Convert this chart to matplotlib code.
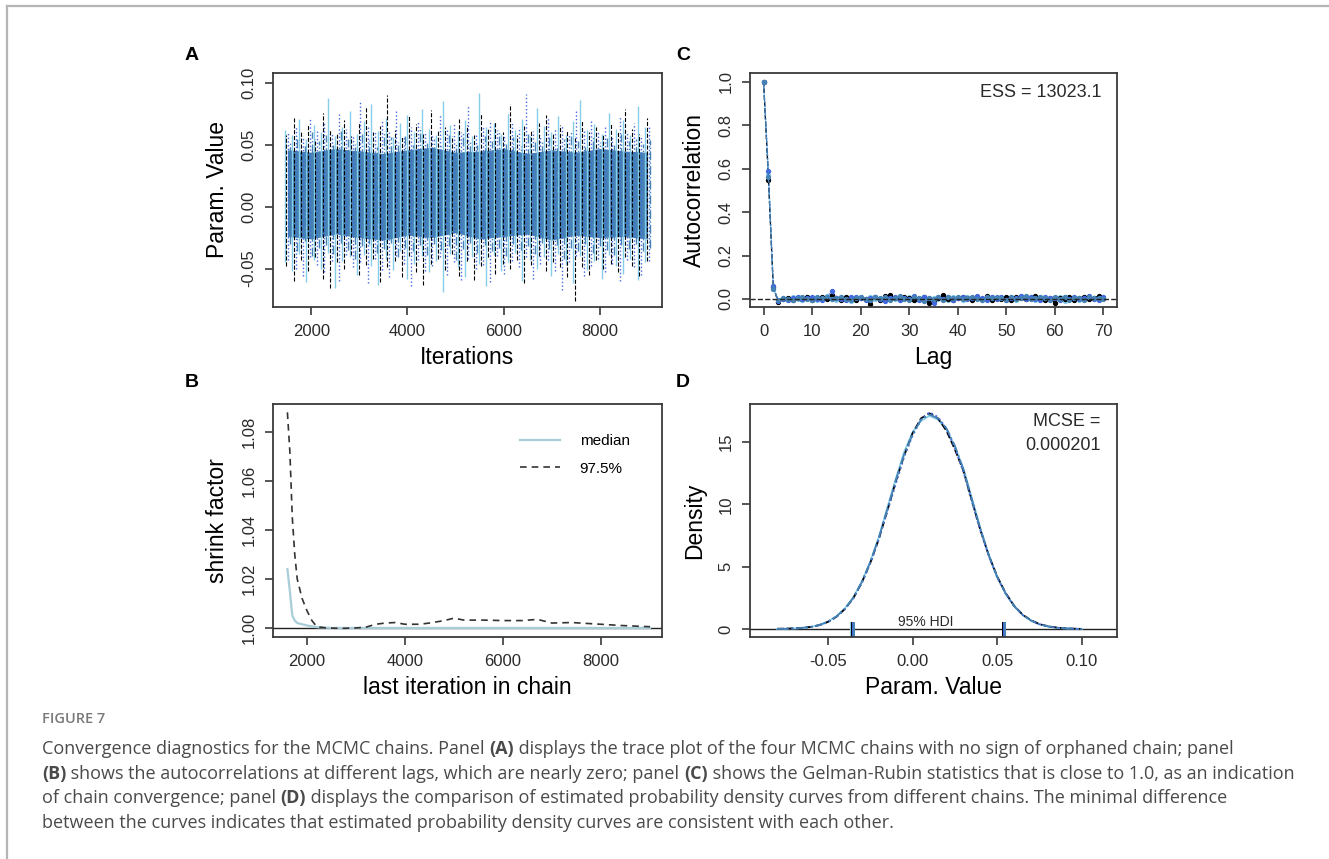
import numpy as np
import matplotlib
matplotlib.use("Agg")
import matplotlib.pyplot as plt
from matplotlib.lines import Line2D

plt.rcParams['font.family'] = ['Liberation Sans', 'DejaVu Sans']

W, H = 1329, 859

# ---------------------------------------------------------------- data ----
CHAIN_COLORS = ['#87CEEB', '#000000', '#4169E1', '#4682B4']
CHAIN_STYLES = ['-', '--', ':', '-.']

# A: trace plot, spike extremes per chain at iteration grid
TRACE_ITER = np.arange(1500, 9001, 150)
TRACE_SHIFT = [-56, -19, 19, 56]
TRACE_HI = [
    [0.062, 0.058, 0.071, 0.055, 0.066, 0.060, 0.088, 0.057, 0.064, 0.077,
     0.059, 0.069, 0.083, 0.061, 0.072, 0.056, 0.068, 0.074, 0.060, 0.079,
     0.063, 0.058, 0.085, 0.066, 0.061, 0.070, 0.057, 0.092, 0.064, 0.068,
     0.059, 0.075, 0.062, 0.071, 0.057, 0.080, 0.065, 0.060, 0.073, 0.058,
     0.069, 0.086, 0.062, 0.067, 0.059, 0.076, 0.063, 0.070, 0.058, 0.081,
     0.064],
    [0.058, 0.072, 0.061, 0.066, 0.055, 0.076, 0.063, 0.059, 0.070, 0.057,
     0.068, 0.081, 0.060, 0.065, 0.090, 0.062, 0.056, 0.073, 0.067, 0.059,
     0.078, 0.061, 0.064, 0.057, 0.071, 0.066, 0.058, 0.075, 0.063, 0.069,
     0.060, 0.083, 0.058, 0.065, 0.061, 0.068, 0.074, 0.059, 0.066, 0.062,
     0.057, 0.070, 0.060, 0.064, 0.058, 0.067, 0.061, 0.079, 0.063, 0.059,
     0.072],
    [0.060, 0.065, 0.057, 0.072, 0.061, 0.068, 0.059, 0.075, 0.063, 0.058,
     0.086, 0.066, 0.060, 0.071, 0.062, 0.079, 0.057, 0.064, 0.069, 0.061,
     0.058, 0.074, 0.063, 0.067, 0.060, 0.082, 0.059, 0.065, 0.070, 0.062,
     0.057, 0.068, 0.064, 0.091, 0.061, 0.058, 0.072, 0.063, 0.066, 0.059,
     0.077, 0.062, 0.069, 0.060, 0.065, 0.057, 0.073, 0.061, 0.068, 0.058,
     0.066],
    [0.052, 0.056, 0.049, 0.060, 0.053, 0.058, 0.050, 0.063, 0.055, 0.051,
     0.059, 0.054, 0.048, 0.061, 0.056, 0.052, 0.057, 0.050, 0.064, 0.053,
     0.055, 0.049, 0.058, 0.052, 0.060, 0.054, 0.050, 0.057, 0.053, 0.062,
     0.051, 0.056, 0.049, 0.059, 0.054, 0.052, 0.058, 0.050, 0.055, 0.061,
     0.053, 0.048, 0.057, 0.052, 0.056, 0.050, 0.059, 0.053, 0.055, 0.051,
     0.054],
]
TRACE_LO = [
    [-0.045, -0.052, -0.038, -0.061, -0.043, -0.050, -0.037, -0.066, -0.044, -0.041,
     -0.055, -0.039, -0.048, -0.063, -0.042, -0.051, -0.036, -0.058, -0.046, -0.040,
     -0.053, -0.044, -0.069, -0.038, -0.049, -0.057, -0.041, -0.046, -0.064, -0.039,
     -0.052, -0.045, -0.037, -0.060, -0.043, -0.050, -0.041, -0.056, -0.038, -0.047,
     -0.062, -0.040, -0.051, -0.044, -0.058, -0.039, -0.048, -0.054, -0.042, -0.059,
     -0.045],
    [-0.048, -0.060, -0.043, -0.052, -0.041, -0.058, -0.066, -0.045, -0.050, -0.039,
     -0.055, -0.047, -0.042, -0.061, -0.049, -0.044, -0.057, -0.040, -0.053, -0.063,
     -0.046, -0.042, -0.051, -0.038, -0.056, -0.044, -0.059, -0.048, -0.041, -0.054,
     -0.046, -0.050, -0.043, -0.062, -0.047, -0.040, -0.052, -0.045, -0.049, -0.057,
     -0.076, -0.049, -0.055, -0.043, -0.050, -0.046, -0.053, -0.041, -0.048, -0.056,
     -0.044],
    [-0.043, -0.050, -0.056, -0.041, -0.047, -0.053, -0.044, -0.060, -0.039, -0.049,
     -0.045, -0.062, -0.042, -0.051, -0.057, -0.040, -0.046, -0.064, -0.043, -0.052,
     -0.048, -0.041, -0.055, -0.045, -0.059, -0.042, -0.050, -0.047, -0.061, -0.040,
     -0.054, -0.044, -0.049, -0.041, -0.058, -0.046, -0.043, -0.052, -0.067, -0.045,
     -0.040, -0.056, -0.048, -0.042, -0.053, -0.046, -0.060, -0.043, -0.049, -0.055,
     -0.044],
    [-0.030, -0.036, -0.028, -0.040, -0.033, -0.031, -0.038, -0.029, -0.035, -0.042,
     -0.032, -0.030, -0.037, -0.034, -0.029, -0.041, -0.033, -0.036, -0.031, -0.039,
     -0.030, -0.035, -0.032, -0.043, -0.034, -0.029, -0.037, -0.031, -0.036, -0.033,
     -0.040, -0.030, -0.035, -0.032, -0.038, -0.029, -0.034, -0.031, -0.042, -0.033,
     -0.036, -0.030, -0.037, -0.032, -0.035, -0.039, -0.031, -0.034, -0.030, -0.036,
     -0.033],
]
BAND_ITER = np.arange(1500, 9001, 500)
BAND_HI = [0.046, 0.044, 0.047, 0.045, 0.043, 0.046, 0.048, 0.044,
           0.045, 0.047, 0.043, 0.046, 0.044, 0.047, 0.045, 0.044]
BAND_LO = [-0.024, -0.026, -0.022, -0.025, -0.027, -0.023, -0.025, -0.021,
           -0.026, -0.024, -0.022, -0.027, -0.023, -0.025, -0.024, -0.026]

# C: autocorrelation per chain, lags 0..70
LAGS = np.arange(0, 71)
ACF = [
    [1.0, 0.57, 0.05, -0.005, 0.004, -0.006, 0.008, 0.002, -0.004, 0.010,
     0.003, -0.007, 0.006, 0.012, 0.001, -0.005, 0.009, 0.004, -0.008, 0.003,
     0.007, -0.002, 0.011, 0.000, -0.006, 0.008, 0.015, 0.002, -0.004, 0.006,
     0.010, -0.007, 0.003, 0.009, -0.012, 0.005, 0.001, 0.013, -0.003, 0.007,
     0.004, -0.006, 0.010, 0.002, 0.008, -0.004, 0.005, 0.011, -0.002, 0.006,
     0.003, 0.009, -0.005, 0.012, 0.001, 0.007, -0.003, 0.010, 0.004, -0.006,
     0.002, 0.008, -0.010, 0.005, 0.003, -0.004, 0.009, 0.001, -0.002, 0.006,
     0.004],
    [1.0, 0.55, 0.055, -0.015, 0.000, 0.003, -0.004, 0.006, 0.002, 0.009,
     -0.003, 0.005, 0.010, -0.002, 0.018, 0.004, -0.006, 0.007, 0.001, -0.004,
     0.006, 0.002, -0.025, 0.008, -0.003, 0.012, 0.020, 0.005, -0.002, 0.009,
     0.003, -0.006, 0.001, 0.007, -0.018, -0.010, 0.004, 0.016, 0.002, -0.004,
     0.006, 0.011, 0.003, -0.005, 0.008, 0.001, 0.014, -0.003, 0.005, 0.002,
     0.007, -0.004, 0.010, 0.003, -0.002, 0.006, 0.012, 0.001, -0.006, 0.004,
     -0.018, 0.006, 0.002, 0.008, -0.003, 0.005, 0.010, -0.002, 0.004, 0.014,
     0.006],
    [1.0, 0.59, 0.06, -0.008, 0.002, -0.003, 0.006, 0.010, -0.002, 0.004,
     0.008, 0.001, -0.005, 0.009, 0.035, 0.006, 0.002, -0.004, 0.007, 0.011,
     0.003, -0.006, 0.005, 0.009, 0.001, -0.008, 0.004, 0.010, -0.003, 0.006,
     0.002, 0.012, -0.005, 0.007, 0.003, -0.020, 0.008, 0.001, 0.011, -0.004,
     0.005, 0.009, -0.002, 0.006, 0.013, 0.003, -0.006, 0.008, 0.002, 0.010,
     -0.003, 0.006, 0.004, 0.015, -0.001, 0.007, 0.002, -0.005, 0.009, 0.003,
     0.006, -0.004, 0.011, 0.001, 0.007, -0.002, 0.005, 0.013, 0.002, -0.003,
     0.008],
    [1.0, 0.56, 0.045, -0.003, 0.006, 0.001, -0.005, 0.004, 0.009, 0.002,
     -0.004, 0.007, 0.003, 0.010, -0.002, 0.005, 0.008, 0.000, -0.006, 0.006,
     0.011, 0.002, -0.004, 0.007, 0.003, 0.009, -0.003, 0.005, 0.012, 0.001,
     -0.005, 0.008, 0.004, -0.009, 0.006, 0.002, 0.010, -0.003, 0.007, 0.003,
     0.009, -0.002, 0.005, 0.011, 0.001, -0.004, 0.007, 0.003, 0.010, 0.004,
     -0.003, 0.008, 0.002, 0.006, 0.012, -0.001, 0.005, 0.009, 0.003, -0.005,
     0.007, 0.002, 0.010, -0.003, 0.006, 0.004, -0.006, 0.008, 0.003, 0.005,
     0.002],
]
ESS_LABEL = 'ESS = 13023.1'

# B: Gelman-Rubin shrink factor
GR_MED_X = [1600, 1650, 1700, 1750, 1800, 2000, 2200, 2500, 3000, 4000,
            5000, 6000, 7000, 8000, 9000]
GR_MED = [1.024, 1.015, 1.005, 1.003, 1.002, 1.001, 1.0003, 1.0, 1.0, 1.0,
          1.0, 1.0, 1.0, 1.0, 1.0]
GR_97_X = [1600, 1650, 1700, 1750, 1800, 1900, 2000, 2100, 2200, 2400,
           2700, 3000, 3200, 3400, 3600, 3800, 4000, 4300, 4500, 4800,
           5000, 5200, 5600, 6000, 6400, 6700, 7000, 7400, 8000, 8400, 9000]
GR_97 = [1.088, 1.072, 1.045, 1.030, 1.020, 1.012, 1.007, 1.003, 1.0005, 1.0,
         0.9998, 1.0, 1.0003, 1.0015, 1.002, 1.0022, 1.0015, 1.0015, 1.002, 1.003,
         1.004, 1.0032, 1.0032, 1.003, 1.003, 1.0035, 1.002, 1.0022, 1.0015, 1.001,
         1.0005]

# D: density per chain
DENS_X = np.round(np.arange(-0.08, 0.1001, 0.005), 3)
DENS = [
    [0.01, 0.02, 0.04, 0.09, 0.18, 0.33, 0.60, 1.02, 1.65, 2.55, 3.80, 5.40, 7.35,
     9.70, 12.0, 14.2, 15.8, 16.7, 17.1, 16.8, 16.0, 14.6, 12.9, 10.5, 8.10, 5.95,
     4.15, 2.80, 1.82, 1.12, 0.66, 0.37, 0.20, 0.10, 0.05, 0.02, 0.01],
    [0.02, 0.03, 0.05, 0.10, 0.17, 0.31, 0.57, 0.98, 1.60, 2.48, 3.72, 5.30, 7.20,
     9.45, 11.8, 13.9, 15.7, 16.9, 17.3, 16.9, 15.9, 14.4, 12.7, 10.3, 7.95, 5.90,
     4.20, 2.88, 1.86, 1.15, 0.70, 0.39, 0.22, 0.12, 0.06, 0.03, 0.01],
    [0.01, 0.02, 0.04, 0.08, 0.16, 0.30, 0.55, 0.96, 1.58, 2.45, 3.68, 5.25, 7.15,
     9.40, 11.6, 13.8, 15.5, 16.8, 17.4, 17.0, 16.1, 14.5, 12.6, 10.2, 7.90, 5.85,
     4.12, 2.82, 1.84, 1.13, 0.67, 0.38, 0.21, 0.11, 0.05, 0.02, 0.01],
    [0.01, 0.02, 0.05, 0.09, 0.17, 0.32, 0.58, 1.00, 1.62, 2.50, 3.75, 5.35, 7.28,
     9.55, 11.9, 14.0, 15.6, 16.8, 17.2, 16.9, 16.1, 14.7, 12.8, 10.4, 8.05, 5.92,
     4.18, 2.85, 1.83, 1.13, 0.68, 0.38, 0.21, 0.11, 0.05, 0.02, 0.01],
]
HDI_LO = [-0.0365, -0.0358, -0.0352, -0.0347]
HDI_HI = [0.0531, 0.0536, 0.0541, 0.0546]
MCSE_LABEL = ['MCSE =', '0.000201']

CAPTION_TITLE = 'FIGURE 7'
CAPTION_LINES = [
    [('Convergence diagnostics for the MCMC chains. Panel ', False), ('(A)', True),
     (' displays the trace plot of the four MCMC chains with no sign of orphaned chain; panel', False)],
    [('(B)', True), (' shows the autocorrelations at different lags, which are nearly zero; panel ', False),
     ('(C)', True), (' shows the Gelman-Rubin statistics that is close to 1.0, as an indication', False)],
    [('of chain convergence; panel ', False), ('(D)', True),
     (' displays the comparison of estimated probability density curves from different chains. The minimal difference', False)],
    [('between the curves indicates that estimated probability density curves are consistent with each other.', False)],
]


# -------------------------------------------------------------- helpers ---
def px_axes(fig, left, top, right, bottom):
    return fig.add_axes([left / W, 1 - bottom / H, (right - left) / W, (bottom - top) / H])


def r_style(ax):
    for s in ax.spines.values():
        s.set_linewidth(1.3)
        s.set_color('#3a3a3a')
    ax.tick_params(direction='out', length=6, width=1.2, color='#3a3a3a',
                   labelsize=12, labelcolor='#2a2a2a', pad=6)
    plt.setp(ax.get_yticklabels(), rotation=90, va='center')


fig = plt.figure(figsize=(W / 100, H / 100), dpi=100)

# card border (top and left)
fig.add_artist(Line2D([7 / W, 1], [1 - 6 / H, 1 - 6 / H], color='#b5b5b5', lw=1.6))
fig.add_artist(Line2D([7 / W, 7 / W], [0, 1 - 6 / H], color='#b5b5b5', lw=1.6))

LABEL_SIZE = 16.5

# ----------------------------------------------------------------- A ------
axA = px_axes(fig, 273, 73, 662, 307)
for i in range(3):
    axA.vlines(TRACE_ITER + TRACE_SHIFT[i], TRACE_LO[i], TRACE_HI[i],
               colors=CHAIN_COLORS[i], linestyles=CHAIN_STYLES[i],
               lw=0.8 if i == 1 else 1.0)
axA.fill_between(BAND_ITER, BAND_LO, BAND_HI, color=CHAIN_COLORS[3], lw=0)
axA.vlines(TRACE_ITER + TRACE_SHIFT[3], TRACE_LO[3], TRACE_HI[3],
           colors=CHAIN_COLORS[3], linestyles=CHAIN_STYLES[3], lw=1.0)
axA.set_xlim(1200, 9300)
axA.set_ylim(-0.081, 0.108)
axA.set_xticks([2000, 4000, 6000, 8000])
axA.set_yticks([-0.05, 0.0, 0.05, 0.10])
axA.set_yticklabels(['-0.05', '0.00', '0.05', '0.10'])
axA.set_xlabel('Iterations', fontsize=LABEL_SIZE, labelpad=5)
axA.set_ylabel('Param. Value', fontsize=LABEL_SIZE, labelpad=9)
r_style(axA)

# ----------------------------------------------------------------- C ------
axC = px_axes(fig, 750, 73, 1117, 307)
for i in range(4):
    axC.plot(LAGS, ACF[i], color=CHAIN_COLORS[i], ls=CHAIN_STYLES[i], lw=0.9,
             marker='o', ms=2.8, mec=CHAIN_COLORS[i])
axC.axhline(0, color='#222222', ls='--', lw=1.0)
axC.set_xlim(-2.8, 72.8)
axC.set_ylim(-0.037, 1.041)
axC.set_xticks(range(0, 71, 10))
axC.set_yticks([0.0, 0.2, 0.4, 0.6, 0.8, 1.0])
axC.set_yticklabels(['0.0', '0.2', '0.4', '0.6', '0.8', '1.0'])
axC.set_xlabel('Lag', fontsize=LABEL_SIZE, labelpad=5)
axC.set_ylabel('Autocorrelation', fontsize=LABEL_SIZE, labelpad=9)
axC.text(0.959, 0.915, ESS_LABEL, transform=axC.transAxes, ha='right', va='center',
         fontsize=13, color='#2a2a2a')
r_style(axC)

# ----------------------------------------------------------------- B ------
axB = px_axes(fig, 273, 404, 662, 637)
axB.axhline(1.0, color='#222222', lw=1.0)
axB.plot(GR_MED_X, GR_MED, color='#a9cdd8', lw=1.6, label='median')
axB.plot(GR_97_X, GR_97, color='#333333', lw=1.2, ls=(0, (4, 3)), label='97.5%')
axB.set_xlim(1306, 9245)
axB.set_ylim(0.9963, 1.0914)
axB.set_xticks([2000, 4000, 6000, 8000])
axB.set_yticks([1.00, 1.02, 1.04, 1.06, 1.08])
axB.set_yticklabels(['1.00', '1.02', '1.04', '1.06', '1.08'])
axB.set_xlabel('last iteration in chain', fontsize=LABEL_SIZE, labelpad=5)
axB.set_ylabel('shrink factor', fontsize=LABEL_SIZE, labelpad=9)
axB.legend(loc='upper left', bbox_to_anchor=(0.6, 0.93), frameon=False, fontsize=11,
           handlelength=2.6, labelspacing=0.9, handletextpad=1.3)
r_style(axB)

# ----------------------------------------------------------------- D ------
axD = px_axes(fig, 750, 404, 1117, 637)
axD.axhline(0, color='#222222', lw=1.0)
for i in range(4):
    axD.plot(DENS_X, DENS[i], color=CHAIN_COLORS[i], ls=CHAIN_STYLES[i], lw=1.3)
for i in range(4):
    axD.vlines([HDI_LO[i], HDI_HI[i]], -0.64, 0.6, colors=CHAIN_COLORS[i], lw=1.4)
axD.text(0.008, 0.55, '95% HDI', ha='center', va='center', fontsize=10, color='#2a2a2a')
axD.set_xlim(-0.096, 0.1207)
axD.set_ylim(-0.64, 18.05)
axD.set_xticks([-0.05, 0.0, 0.05, 0.10])
axD.set_xticklabels(['-0.05', '0.00', '0.05', '0.10'])
axD.set_yticks([0, 5, 10, 15])
axD.set_xlabel('Param. Value', fontsize=LABEL_SIZE, labelpad=5)
axD.set_ylabel('Density', fontsize=LABEL_SIZE, labelpad=9)
axD.text(0.956, 0.923, MCSE_LABEL[0], transform=axD.transAxes, ha='right', va='center',
         fontsize=13, color='#2a2a2a')
axD.text(0.956, 0.824, MCSE_LABEL[1], transform=axD.transAxes, ha='right', va='center',
         fontsize=13, color='#2a2a2a')
r_style(axD)

# panel letters
for lab, (x, y) in zip('ACBD', [(192, 55), (683, 55), (192, 383), (683, 383)]):
    fig.text(x / W, 1 - y / H, lab, fontsize=14, fontweight='bold', ha='center', va='center')

# ------------------------------------------------------------- caption ----
cap_font = ['Open Sans', 'DejaVu Sans']
fig.text(42 / W, 1 - 719 / H, CAPTION_TITLE, fontsize=10.5, fontweight='semibold',
         color='#7a7a7a', family=cap_font, va='center')
renderer = fig.canvas.get_renderer()
for k, parts in enumerate(CAPTION_LINES):
    x = 42
    y = 749 + 24.7 * k
    for s, bold in parts:
        t = fig.text(x / W, 1 - y / H, s, fontsize=13, family=cap_font,
                     fontweight='bold' if bold else 'normal', color='#4a4a4a', va='center')
        x += t.get_window_extent(renderer=renderer).width

fig.savefig('out.png', dpi=100)
